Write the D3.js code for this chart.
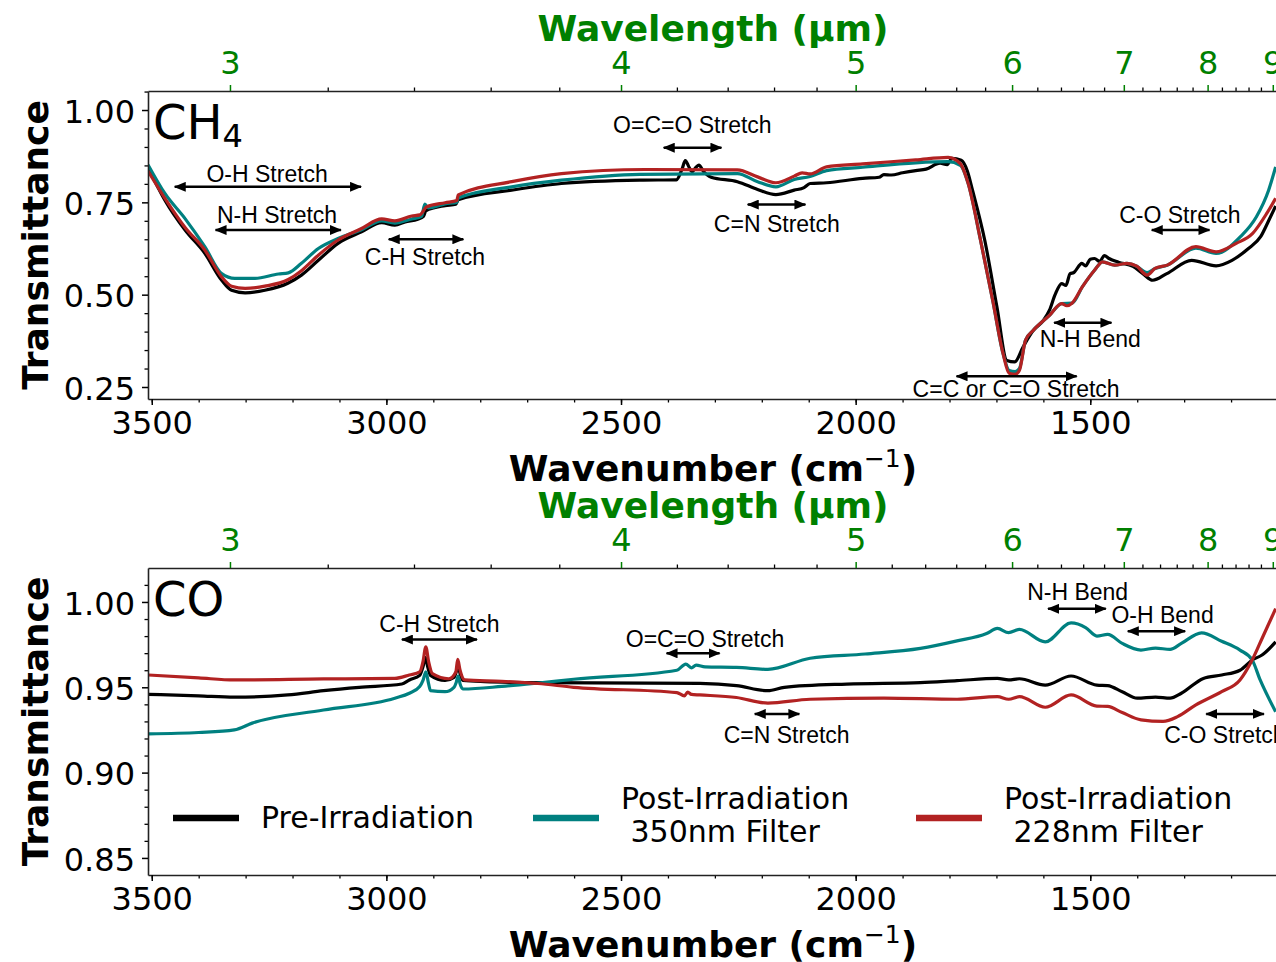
<!DOCTYPE html>
<html>
<head>
<meta charset="utf-8">
<script src="https://cdn.jsdelivr.net/npm/d3@7"></script>
<style>
  body { margin: 0; background: #fff; }
  svg { display: block; font-family: "DejaVu Sans", sans-serif; }
</style>
</head>
<body>
<div id="chart"></div>
<script>
// ---- data: [wavenumber cm^-1, transmittance] ----

// CH4 panel
const ch4Pre = [[3508,0.845],[3472,0.756],[3429,0.675],[3387,0.612],[3351,0.539],[3330,0.512],[3301,0.505],[3259,0.512],[3210,0.531],[3181,0.553],[3145,0.593],[3103,0.639],[3053,0.670],[3010,0.695],[2982,0.688],[2960,0.697],[2933,0.704],[2921,0.712],[2916,0.727],[2875,0.741],[2852,0.745],[2847,0.757],[2733,0.783],[2627,0.801],[2460,0.810],[2382,0.811],[2370,0.840],[2363,0.863],[2355,0.845],[2349,0.833],[2340,0.845],[2334,0.851],[2325,0.835],[2308,0.818],[2252,0.806],[2209,0.785],[2170,0.771],[2131,0.783],[2110,0.790],[2097,0.801],[2062,0.803],[1985,0.815],[1950,0.818],[1940,0.825],[1924,0.824],[1900,0.830],[1872,0.836],[1850,0.840],[1820,0.856],[1805,0.852],[1795,0.869],[1775,0.864],[1762,0.835],[1751,0.783],[1725,0.648],[1699,0.467],[1678,0.322],[1661,0.318],[1643,0.359],[1621,0.404],[1600,0.430],[1587,0.458],[1575,0.500],[1561,0.530],[1552,0.525],[1543,0.557],[1535,0.560],[1518,0.585],[1510,0.578],[1500,0.596],[1491,0.598],[1480,0.590],[1470,0.606],[1460,0.598],[1440,0.588],[1409,0.577],[1388,0.557],[1367,0.539],[1337,0.557],[1284,0.593],[1232,0.578],[1198,0.593],[1163,0.625],[1137,0.657],[1120,0.700],[1105,0.740]]
const ch4F350 = [[3508,0.852],[3472,0.774],[3429,0.706],[3387,0.630],[3351,0.557],[3323,0.544],[3280,0.544],[3230,0.556],[3209,0.559],[3181,0.585],[3145,0.625],[3103,0.652],[3053,0.676],[3010,0.700],[2982,0.694],[2946,0.705],[2925,0.712],[2918,0.745],[2911,0.735],[2875,0.746],[2850,0.750],[2847,0.762],[2733,0.792],[2627,0.810],[2460,0.826],[2252,0.828],[2209,0.806],[2170,0.792],[2131,0.812],[2097,0.820],[2062,0.836],[1985,0.845],[1872,0.857],[1803,0.860],[1777,0.850],[1760,0.800],[1734,0.648],[1708,0.485],[1686,0.341],[1673,0.295],[1660,0.292],[1651,0.300],[1638,0.377],[1621,0.404],[1587,0.444],[1561,0.476],[1539,0.477],[1517,0.521],[1491,0.566],[1474,0.589],[1448,0.580],[1422,0.585],[1401,0.577],[1379,0.560],[1362,0.571],[1336,0.580],[1275,0.626],[1232,0.612],[1180,0.657],[1146,0.711],[1120,0.783],[1105,0.846]]
const ch4F228 = [[3508,0.835],[3472,0.761],[3429,0.682],[3387,0.621],[3351,0.548],[3330,0.523],[3301,0.517],[3259,0.523],[3209,0.541],[3181,0.565],[3145,0.607],[3103,0.648],[3053,0.679],[3010,0.705],[2982,0.700],[2946,0.713],[2929,0.716],[2914,0.738],[2875,0.749],[2850,0.755],[2847,0.770],[2733,0.806],[2627,0.828],[2449,0.839],[2252,0.838],[2209,0.819],[2170,0.803],[2131,0.821],[2114,0.830],[2097,0.827],[2062,0.846],[1985,0.854],[1872,0.865],[1803,0.872],[1777,0.855],[1760,0.800],[1734,0.648],[1708,0.485],[1686,0.341],[1673,0.287],[1660,0.284],[1651,0.295],[1638,0.377],[1621,0.404],[1587,0.444],[1561,0.476],[1550,0.470],[1539,0.477],[1517,0.521],[1491,0.566],[1474,0.589],[1448,0.580],[1422,0.585],[1401,0.577],[1379,0.553],[1362,0.571],[1336,0.580],[1275,0.630],[1232,0.616],[1189,0.639],[1154,0.666],[1124,0.720],[1105,0.761]]

// CO panel
const coPre = [[3507,0.9459],[3400,0.9450],[3324,0.9442],[3210,0.9455],[3134,0.9480],[3058,0.9500],[2967,0.9519],[2951,0.9543],[2929,0.9570],[2922,0.9620],[2917,0.9675],[2912,0.9620],[2906,0.9570],[2875,0.9540],[2856,0.9558],[2850,0.9600],[2847,0.9624],[2843,0.9580],[2837,0.9540],[2791,0.9533],[2677,0.9527],[2332,0.9523],[2254,0.9510],[2187,0.9480],[2152,0.9500],[2019,0.9519],[1862,0.9527],[1784,0.9539],[1698,0.9552],[1674,0.9543],[1651,0.9550],[1596,0.9513],[1541,0.9566],[1486,0.9513],[1463,0.9510],[1432,0.9474],[1400,0.9436],[1361,0.9442],[1330,0.9436],[1306,0.9465],[1259,0.9552],[1220,0.9572],[1181,0.9600],[1155,0.9660],[1134,0.9689],[1105,0.9766]]
const coF350 = [[3507,0.9227],[3400,0.9235],[3324,0.9250],[3286,0.9290],[3134,0.9367],[2982,0.9436],[2951,0.9465],[2929,0.9504],[2922,0.9540],[2916,0.9591],[2910,0.9520],[2906,0.9480],[2875,0.9474],[2856,0.9500],[2851,0.9530],[2847,0.9566],[2843,0.9520],[2837,0.9490],[2754,0.9505],[2677,0.9525],[2601,0.9547],[2381,0.9600],[2362,0.9636],[2350,0.9614],[2340,0.9630],[2321,0.9620],[2254,0.9617],[2187,0.9605],[2097,0.9670],[1980,0.9695],[1862,0.9728],[1784,0.9772],[1721,0.9815],[1698,0.9845],[1674,0.9820],[1651,0.9839],[1596,0.9766],[1541,0.9877],[1510,0.9850],[1486,0.9800],[1463,0.9810],[1432,0.9757],[1392,0.9718],[1361,0.9730],[1330,0.9722],[1306,0.9757],[1263,0.9819],[1220,0.9770],[1181,0.9718],[1155,0.9660],[1138,0.9543],[1105,0.9357]]
const coF228 = [[3507,0.9572],[3400,0.9555],[3324,0.9543],[3134,0.9549],[2982,0.9552],[2951,0.9572],[2929,0.9590],[2922,0.9650],[2916,0.9737],[2910,0.9650],[2902,0.9580],[2867,0.9550],[2852,0.9590],[2848,0.9663],[2843,0.9600],[2833,0.9543],[2754,0.9535],[2677,0.9522],[2601,0.9500],[2381,0.9469],[2365,0.9450],[2358,0.9472],[2350,0.9458],[2332,0.9455],[2254,0.9440],[2187,0.9407],[2097,0.9430],[1940,0.9436],[1784,0.9430],[1698,0.9445],[1674,0.9430],[1651,0.9445],[1596,0.9383],[1541,0.9455],[1486,0.9390],[1463,0.9388],[1432,0.9352],[1392,0.9309],[1345,0.9300],[1314,0.9328],[1275,0.9397],[1220,0.9474],[1181,0.9543],[1155,0.9660],[1134,0.9786],[1105,0.9961]]

const seriesNames = ['Pre-Irradiation', 'Post-Irradiation\n 350nm Filter', 'Post-Irradiation\n 228nm Filter']
const seriesColors = ['#000000', '#008080', '#b22222']

// axis ticks
const wnTicks = [3500, 3000, 2500, 2000, 1500]
const wnMinor = d3.range(3500, 1099, -100)
const umTicks = [3, 4, 5, 6, 7, 8, 9]
const umMinor = d3.range(32, 90, 2).filter(d => d % 10 != 0).map(d => d / 10)
const ch4YTicks = [0.25, 0.50, 0.75, 1.00]
const ch4YMinor = [0.30, 0.35, 0.40, 0.45, 0.55, 0.60, 0.65, 0.70, 0.80, 0.85, 0.90, 0.95, 1.05]
const coYTicks = [0.85, 0.90, 0.95, 1.00]
const coYMinor = [0.86, 0.87, 0.88, 0.89, 0.91, 0.92, 0.93, 0.94, 0.96, 0.97, 0.98, 0.99, 1.01]

// band annotations: arrow from/to (cm^-1), arrow level, label centre and baseline
const ch4Bands = [
  { label: 'O-H Stretch', from: 3451, to: 3054, at: 0.792, textWn: 3254, textT: 0.806 },
  { label: 'N-H Stretch', from: 3364, to: 3097, at: 0.675, textWn: 3233, textT: 0.693 },
  { label: 'C-H Stretch', from: 2995, to: 2836, at: 0.650, textWn: 2918, textT: 0.580 },
  { label: 'O=C=O Stretch', from: 2409, to: 2286, at: 0.898, textWn: 2348, textT: 0.937 },
  { label: 'C=N Stretch', from: 2230, to: 2107, at: 0.744, textWn: 2168, textT: 0.670 },
  { label: 'C-O Stretch', from: 1369, to: 1246, at: 0.675, textWn: 1309, textT: 0.693 },
  { label: 'N-H Bend', from: 1577, to: 1455, at: 0.424, textWn: 1500, textT: 0.359 },
  { label: 'C=C or C=O Stretch', from: 1785, to: 1529, at: 0.279, textWn: 1658, textT: 0.223 }
]
const coBands = [
  { label: 'C-H Stretch', from: 2967, to: 2807, at: 0.978, textWn: 2887, textT: 0.9825 },
  { label: 'O=C=O Stretch', from: 2403, to: 2290, at: 0.9699, textWn: 2321, textT: 0.9737 },
  { label: 'C=N Stretch', from: 2215, to: 2120, at: 0.9344, textWn: 2147, textT: 0.9173 },
  { label: 'N-H Bend', from: 1590, to: 1467, at: 0.996, textWn: 1527, textT: 1.001 },
  { label: 'O-H Bend', from: 1420, to: 1298, at: 0.9829, textWn: 1346, textT: 0.9874 },
  { label: 'C-O Stretch', from: 1253, to: 1130, at: 0.9344, textWn: 1213, textT: 0.9173 }
]

// ---- layout ----
const width = 1276
const height = 962
const green = '#008000'
const tickFont = 32
const titleFont = 36

const svg = d3.select('#chart').append('svg')
  .attr('width', width)
  .attr('height', height)
  .attr('viewBox', `0 0 ${width} ${height}`)

svg.append('rect').attr('width', width).attr('height', height).attr('fill', '#fff')

const defs = svg.append('defs')
defs.append('marker')
  .attr('id', 'arrowhead')
  .attr('viewBox', '0 0 12 10')
  .attr('refX', 11)
  .attr('refY', 5)
  .attr('markerWidth', 12)
  .attr('markerHeight', 10)
  .attr('markerUnits', 'userSpaceOnUse')
  .attr('orient', 'auto-start-reverse')
  .append('path')
  .attr('d', 'M0,0L12,5L0,10Z')
  .attr('fill', '#000')

const xScale = d3.scaleLinear().domain([3508, 1100]).range([148, 1278])

const styleAxis = function (g, color) {
  g.attr('font-size', tickFont).attr('font-family', '"DejaVu Sans", sans-serif')
  g.selectAll('.tick text').attr('fill', color || '#000')
  g.selectAll('.tick line').attr('stroke', color || '#000').attr('stroke-width', 1.5)
  g.select('.domain').attr('stroke', '#222').attr('stroke-width', 1.6)
}

const drawPanel = function (cfg) {
  const y = d3.scaleLinear().domain(cfg.yDomain).range([cfg.bottom, cfg.top])
  const panel = svg.append('g')

  defs.append('clipPath').attr('id', 'clip-' + cfg.id)
    .append('rect')
    .attr('x', xScale.range()[0]).attr('y', cfg.top)
    .attr('width', xScale.range()[1] - xScale.range()[0])
    .attr('height', cfg.bottom - cfg.top)

  // spectra
  const line = d3.line()
    .x(d => xScale(d[0]))
    .y(d => y(d[1]))
    .curve(d3.curveMonotoneX)

  panel.append('g')
    .attr('clip-path', `url(#clip-${cfg.id})`)
    .selectAll('path')
    .data(cfg.series)
    .enter()
    .append('path')
    .attr('d', line)
    .attr('fill', 'none')
    .attr('stroke', (d, i) => seriesColors[i])
    .attr('stroke-width', 3.2)
    .attr('stroke-linejoin', 'round')

  // axes - bottom (wavenumber)
  const bottomMinor = panel.append('g')
    .attr('transform', `translate(0,${cfg.bottom})`)
    .call(d3.axisBottom(xScale).tickValues(wnMinor).tickFormat('').tickSize(3.5).tickSizeOuter(0))
  bottomMinor.select('.domain').remove()
  bottomMinor.selectAll('.tick line').attr('stroke', '#000').attr('stroke-width', 1.3)

  const bottomAxis = panel.append('g')
    .attr('transform', `translate(0,${cfg.bottom})`)
    .call(d3.axisBottom(xScale).tickValues(wnTicks).tickFormat(d3.format('d')).tickSize(6).tickPadding(6).tickSizeOuter(0))
  styleAxis(bottomAxis)

  // top (wavelength in micron)
  const topMinor = panel.append('g')
    .attr('transform', `translate(0,${cfg.top})`)
    .call(d3.axisTop(xScale).tickValues(umMinor.map(d => 1e4 / d)).tickFormat('').tickSize(3.5).tickSizeOuter(0))
  topMinor.select('.domain').remove()
  topMinor.selectAll('.tick line').attr('stroke', '#000').attr('stroke-width', 1.3)

  const topAxis = panel.append('g')
    .attr('transform', `translate(0,${cfg.top})`)
    .call(d3.axisTop(xScale).tickValues(umTicks.map(d => 1e4 / d)).tickFormat(d => Math.round(1e4 / d)).tickSize(6).tickPadding(11).tickSizeOuter(0))
  styleAxis(topAxis, green)

  // left (transmittance)
  const leftMinor = panel.append('g')
    .attr('transform', `translate(${xScale.range()[0]},0)`)
    .call(d3.axisLeft(y).tickValues(cfg.yMinor).tickFormat('').tickSize(3.5).tickSizeOuter(0))
  leftMinor.select('.domain').remove()
  leftMinor.selectAll('.tick line').attr('stroke', '#000').attr('stroke-width', 1.3)

  const leftAxis = panel.append('g')
    .attr('transform', `translate(${xScale.range()[0]},0)`)
    .call(d3.axisLeft(y).tickValues(cfg.yTicks).tickFormat(d3.format('.2f')).tickSize(6).tickPadding(7).tickSizeOuter(0))
  styleAxis(leftAxis)
  leftAxis.selectAll('.tick text').attr('dy', '0.38em')

  // axis titles
  panel.append('text')
    .attr('x', 713).attr('y', cfg.top - 50)
    .attr('text-anchor', 'middle')
    .attr('font-size', titleFont).attr('font-weight', 'bold')
    .attr('fill', green)
    .text('Wavelength (\u00b5m)')

  const xt = panel.append('text')
    .attr('x', 713).attr('y', cfg.bottom + 82)
    .attr('text-anchor', 'middle')
    .attr('font-size', titleFont).attr('font-weight', 'bold')
  xt.append('tspan').text('Wavenumber (cm')
  xt.append('tspan').attr('font-size', 25).attr('font-weight', 'normal').attr('dy', -14).text('\u22121')
  xt.append('tspan').attr('dy', 14).text(')')

  panel.append('text')
    .attr('transform', `translate(48,${(cfg.top + cfg.bottom) / 2}) rotate(-90)`)
    .attr('text-anchor', 'middle')
    .attr('font-size', titleFont).attr('font-weight', 'bold')
    .text('Transmittance')

  // panel name
  const nm = panel.append('text')
    .attr('x', 153).attr('y', cfg.top + 48)
    .attr('font-size', 48)
  nm.append('tspan').text(cfg.name)
  if (cfg.sub) nm.append('tspan').attr('font-size', 32).attr('dy', 8).text(cfg.sub)

  // band arrows and labels
  const bands = panel.append('g').selectAll('g').data(cfg.bands).enter().append('g')
  bands.append('line')
    .attr('x1', d => xScale(d.from)).attr('x2', d => xScale(d.to))
    .attr('y1', d => y(d.at)).attr('y2', d => y(d.at))
    .attr('stroke', '#000').attr('stroke-width', 2.5)
    .attr('marker-start', 'url(#arrowhead)')
    .attr('marker-end', 'url(#arrowhead)')
  bands.append('text')
    .attr('x', d => xScale(d.textWn)).attr('y', d => y(d.textT))
    .attr('text-anchor', 'middle')
    .attr('font-family', '"Liberation Sans", Arial, sans-serif')
    .attr('font-size', 23)
    .text(d => d.label)

  return y
}

drawPanel({
  id: 'ch4', name: 'CH', sub: '4',
  top: 91, bottom: 399, yDomain: [0.2175, 1.0515],
  yTicks: ch4YTicks, yMinor: ch4YMinor,
  series: [ch4Pre, ch4F350, ch4F228], bands: ch4Bands
})

drawPanel({
  id: 'co', name: 'CO',
  top: 568, bottom: 875, yDomain: [0.8400, 1.0199],
  yTicks: coYTicks, yMinor: coYMinor,
  series: [coPre, coF350, coF228], bands: coBands
})

// legend inside the CO panel
const legendX = [173, 533, 916]
const legend = svg.append('g')
  .selectAll('g')
  .data(seriesNames)
  .enter()
  .append('g')
  .attr('transform', (d, i) => `translate(${legendX[i]},818)`)

legend.append('line')
  .attr('x1', 0).attr('x2', 66)
  .attr('stroke', (d, i) => seriesColors[i])
  .attr('stroke-width', 6.5)

legend.append('text')
  .attr('font-size', 30)
  .attr('xml:space', 'preserve')
  .style('white-space', 'pre')
  .each(function (d) {
    const lines = d.split('\n')
    const t = d3.select(this)
    lines.forEach((l, k) => {
      t.append('tspan')
        .attr('x', 88)
        .attr('y', lines.length == 1 ? 10 : -9 + k * 33)
        .text(l)
    })
  })
</script>
</body>
</html>
